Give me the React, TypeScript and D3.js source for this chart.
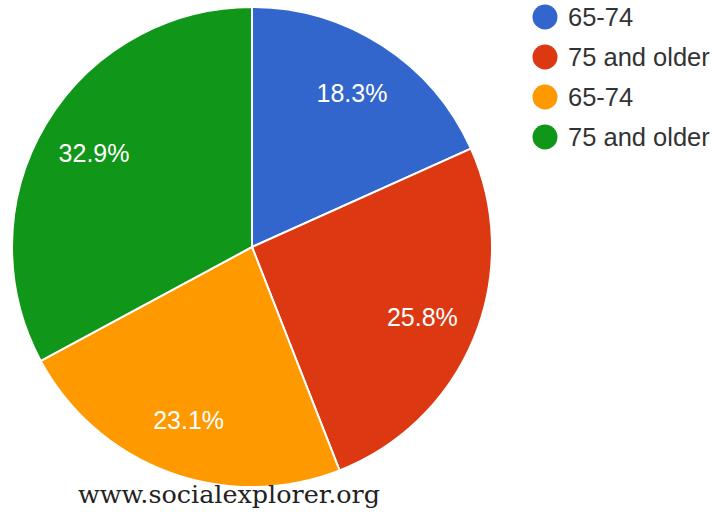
import React from "react";
import * as d3 from "d3";

const categories = ["65-74", "75 and older", "65-74", "75 and older"];
const values = [18.3, 25.8, 23.1, 32.9];
const labels = ["18.3%", "25.8%", "23.1%", "32.9%"];
const colors = ["#3366cc", "#dc3912", "#ff9900", "#109618"];
const sourceText = "www.socialexplorer.org";

export default function App() {
  const width = 717;
  const height = 512;
  const cx = 252;
  const cy = 247;
  const r = 240;
  const pie = d3.pie<number>().sort(null).value((d) => d)(values);
  const arc = d3.arc<d3.PieArcDatum<number>>().innerRadius(0).outerRadius(r);
  const labelArc = d3
    .arc<d3.PieArcDatum<number>>()
    .innerRadius(184)
    .outerRadius(184);

  const legendX = 545;
  const legendY0 = 17;
  const legendStep = 40;

  return (
    <svg
      width={width}
      height={height}
      style={{ position: "absolute", left: 0, top: 0, background: "#fff" }}
    >
      <g transform={`translate(${cx},${cy})`}>
        {pie.map((p, i) => (
          <path key={i} d={arc(p) || ""} fill={colors[i]} stroke="#fff" strokeWidth={2} />
        ))}
        {pie.map((p, i) => {
          const [x, y] = labelArc.centroid(p);
          return (
            <text
              key={"l" + i}
              x={x}
              y={y}
              textAnchor="middle"
              dominantBaseline="central"
              fill="#fff"
              fontFamily="'Liberation Sans', Arial, sans-serif"
              fontSize={25}
            >
              {labels[i]}
            </text>
          );
        })}
      </g>
      {categories.map((c, i) => (
        <g key={"lg" + i} transform={`translate(${legendX},${legendY0 + i * legendStep})`}>
          <circle r={12.5} fill={colors[i]} />
          <text
            x={23}
            y={0}
            dominantBaseline="central"
            fill="#333"
            fontFamily="'Liberation Sans', Arial, sans-serif"
            fontSize={25.5}
          >
            {c}
          </text>
        </g>
      ))}
      <text
        x={78}
        y={503}
        fill="#222"
        fontFamily="'DejaVu Serif', serif"
        fontSize={24.5}
        textLength={302}
        lengthAdjust="spacingAndGlyphs"
      >
        {sourceText}
      </text>
    </svg>
  );
}
